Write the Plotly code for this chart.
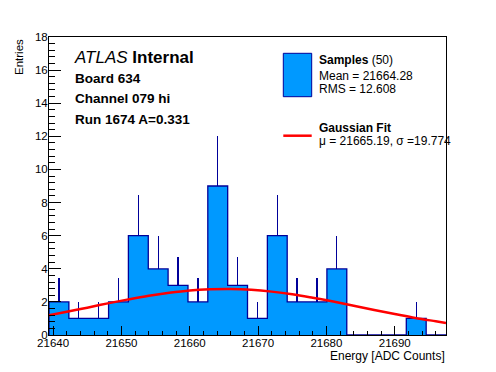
import math
import plotly.graph_objects as go

# ---------------- data ----------------
bin_edges = [21639.40, 21642.31, 21645.21, 21648.12, 21651.02, 21653.93, 21656.83,
             21659.74, 21662.64, 21665.55, 21668.45, 21671.36, 21674.26, 21677.17,
             21680.07, 21682.98, 21685.88, 21688.79, 21691.69, 21694.60, 21697.50]
counts = [2, 1, 1, 2, 6, 4, 3, 2, 9, 3, 1, 6, 2, 2, 4, 0, 0, 0, 1, 0]

# Gaussian fit curve
gauss_x = [21639.4, 21642, 21645, 21648, 21651, 21654, 21657, 21660, 21663, 21666,
           21669, 21672, 21675, 21678, 21681, 21684, 21687, 21690, 21693, 21696, 21697.5]
gauss_y = [1.19, 1.40, 1.65, 1.91, 2.15, 2.37, 2.55, 2.69, 2.76, 2.78,
           2.73, 2.62, 2.46, 2.25, 2.02, 1.77, 1.51, 1.27, 1.03, 0.83, 0.73]

x_ticks = [21640, 21650, 21660, 21670, 21680, 21690]
y_ticks = [0, 2, 4, 6, 8, 10, 12, 14, 16, 18]

header_lines = ["Board 634", "Channel 079 hi", "Run 1674 A=0.331"]
n_samples = 50
mean_txt = "21664.28"
rms_txt = "12.608"
mu_txt = "21665.19"
sigma_txt = "19.774"

# ---------------- styling ----------------
FILL = "#0099ff"
EDGE = "#000099"
FONT = "Liberation Sans"

centers = [(bin_edges[i] + bin_edges[i + 1]) / 2 for i in range(len(counts))]
widths = [bin_edges[i + 1] - bin_edges[i] for i in range(len(counts))]
errs = [math.sqrt(c) for c in counts]

fig = go.Figure()

fig.add_trace(go.Bar(
    x=centers, y=counts, width=widths,
    marker=dict(color=FILL, line=dict(width=0)),
    error_y=dict(type="data", array=errs, arrayminus=[0] * len(counts),
                 symmetric=False, color=EDGE, thickness=1.3, width=0),
    showlegend=False, hoverinfo="skip",
))

# histogram outline (step)
fig.add_trace(go.Scatter(
    x=[bin_edges[0]] + bin_edges,
    y=[0] + counts + [0],
    mode="lines", line=dict(color=EDGE, width=1.3, shape="hv"),
    showlegend=False, hoverinfo="skip",
))

# gaussian fit
fig.add_trace(go.Scatter(
    x=gauss_x, y=gauss_y, mode="lines",
    line=dict(color="#ff0000", width=2.5, shape="spline"),
    showlegend=False, hoverinfo="skip",
))

L, R, T, B = 49, 50, 37, 37
W, H = 496, 372
PW, PH = W - L - R, H - T - B


def px(x):
    return (x - L) / PW


def py(y):
    return (H - B - y) / PH


annotations = []


def txt(text, x, y, size, xanchor="left", **kw):
    annotations.append(dict(
        text=text, x=px(x), y=py(y), xref="paper", yref="paper",
        xanchor=xanchor, yanchor="middle", showarrow=False,
        font=dict(family=FONT, size=size, color="black"), **kw))


txt("<i>ATLAS</i> <b>Internal</b>", 72, 57.8, 17)
for line, yy in zip(header_lines, [78, 98.7, 119.2]):
    txt("<b>%s</b>" % line, 73, yy, 13.5)

txt("<b>Samples</b> (%d)" % n_samples, 317, 60.5, 12)
txt("Mean = %s" % mean_txt, 317, 75.8, 12)
txt("RMS = %s" % rms_txt, 317, 89.2, 12)
txt("<b>Gaussian Fit</b>", 317, 128.0, 12)
txt("\u03bc = %s, \u03c3 =%s" % (mu_txt, sigma_txt), 317, 141.3, 12)

txt("Energy [ADC Counts]", 447, 356, 12, xanchor="right")
annotations.append(dict(
    text="Entries", x=px(19), y=1.0, xref="paper", yref="paper",
    xanchor="center", yanchor="top", textangle=-90, showarrow=False,
    font=dict(family=FONT, size=11.5, color="black")))

shapes = [
    dict(type="rect", xref="paper", yref="paper",
         x0=px(283.3), x1=px(311.7), y0=py(96.7), y1=py(53.3),
         fillcolor=FILL, line=dict(color=EDGE, width=1)),
    dict(type="line", xref="paper", yref="paper",
         x0=px(283.3), x1=px(311.7), y0=py(135.7), y1=py(135.7),
         line=dict(color="#ff0000", width=2.5)),
]

fig.update_layout(
    width=W, height=H,
    margin=dict(l=L, r=R, t=T, b=B, pad=0),
    paper_bgcolor="white", plot_bgcolor="white",
    bargap=0,
    font=dict(family=FONT, size=11.5, color="black"),
    annotations=annotations, shapes=shapes,
    xaxis=dict(range=[bin_edges[0], bin_edges[-1]], tickvals=x_ticks,
               ticktext=[str(v) for v in x_ticks],
               ticks="inside", ticklen=9, tickcolor="black", tickwidth=1,
               minor=dict(dtick=2, tick0=21640, ticks="inside", ticklen=4.5,
                          tickcolor="black", tickwidth=1),
               showline=True, linecolor="black", linewidth=1, mirror=True,
               showgrid=False, zeroline=False, ticklabelstandoff=-3,
               tickfont=dict(family=FONT, size=11.5)),
    yaxis=dict(range=[0, 18], tickvals=y_ticks, ticktext=[str(v) for v in y_ticks],
               ticks="inside", ticklen=12, tickcolor="black", tickwidth=1,
               minor=dict(dtick=0.4, tick0=0, ticks="inside", ticklen=6,
                          tickcolor="black", tickwidth=1),
               showline=True, linecolor="black", linewidth=1, mirror=True,
               showgrid=False, zeroline=False, ticklabelstandoff=-2,
               tickfont=dict(family=FONT, size=11.5)),
)

fig.write_html("out.html", config={"displayModeBar": False, "staticPlot": True},
               post_script="document.body.style.margin='0';document.body.style.padding='0';")
